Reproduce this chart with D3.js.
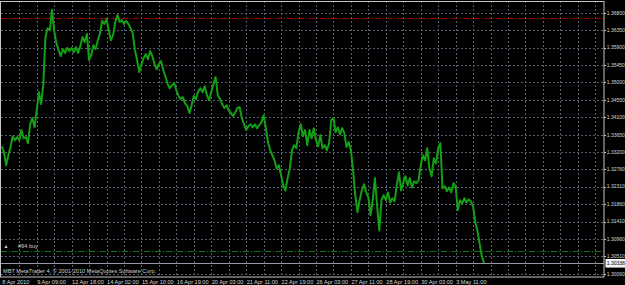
<!DOCTYPE html>
<html>
<head>
<meta charset="utf-8">
<script src="https://cdnjs.cloudflare.com/ajax/libs/d3/7.8.5/d3.min.js"></script>
<style>
  body { margin: 0; background: #000; }
  svg { display: block; }
  text { font-family: "Liberation Sans Narrow", "Liberation Sans", Arial, sans-serif; }
</style>
</head>
<body>
<div class="chart-container"></div>
<script>
const widthSVG = 625;
const heightSVG = 285;

// EURUSD H1, one close every 2 bars
const closes = [
  1.3335, 1.3320, 1.3286, 1.3312, 1.3333, 1.3361, 1.3351, 1.3359, 1.3351, 1.3377,
  1.3356, 1.3359, 1.3343, 1.3392, 1.3408, 1.3384, 1.3428, 1.3475, 1.3444, 1.3493,
  1.3617, 1.3640, 1.3635, 1.3687, 1.3633, 1.3602, 1.3584, 1.3568, 1.3586, 1.3576,
  1.3589, 1.3581, 1.3589, 1.3578, 1.3591, 1.3576, 1.3594, 1.3617, 1.3604, 1.3625,
  1.3558, 1.3571, 1.3596, 1.3586, 1.3609, 1.3627, 1.3659, 1.3651, 1.3664, 1.3635,
  1.3609, 1.3622, 1.3656, 1.3674, 1.3656, 1.3661, 1.3651, 1.3659, 1.3651, 1.3640,
  1.3627, 1.3584, 1.3558, 1.3527, 1.3547, 1.3563, 1.3573, 1.3560, 1.3581, 1.3568,
  1.3547, 1.3534, 1.3547, 1.3555, 1.3532, 1.3516, 1.3496, 1.3485, 1.3493, 1.3498,
  1.3480, 1.3465, 1.3457, 1.3462, 1.3446, 1.3439, 1.3421, 1.3441, 1.3465, 1.3457,
  1.3477, 1.3485, 1.3475, 1.3490, 1.3467, 1.3454, 1.3475, 1.3496, 1.3514, 1.3467,
  1.3457, 1.3444, 1.3434, 1.3441, 1.3428, 1.3421, 1.3413, 1.3423, 1.3434, 1.3436,
  1.3408, 1.3392, 1.3377, 1.3387, 1.3392, 1.3384, 1.3392, 1.3382, 1.3390, 1.3397,
  1.3415, 1.3384, 1.3346, 1.3325, 1.3312, 1.3299, 1.3278, 1.3286, 1.3260, 1.3234,
  1.3221, 1.3253, 1.3278, 1.3325, 1.3338, 1.3330, 1.3372, 1.3392, 1.3361, 1.3377,
  1.3338, 1.3377, 1.3356, 1.3382, 1.3351, 1.3335, 1.3364, 1.3330, 1.3338, 1.3325,
  1.3343, 1.3403, 1.3408, 1.3372, 1.3384, 1.3366, 1.3382, 1.3369, 1.3333, 1.3346,
  1.3325, 1.3273, 1.3209, 1.3165, 1.3196, 1.3221, 1.3237, 1.3216, 1.3203, 1.3157,
  1.3196, 1.3253, 1.3183, 1.3118, 1.3196, 1.3209, 1.3196, 1.3216, 1.3190, 1.3201,
  1.3193, 1.3234, 1.3268, 1.3221, 1.3242, 1.3258, 1.3234, 1.3253, 1.3229, 1.3245,
  1.3240, 1.3247, 1.3286, 1.3312, 1.3299, 1.3330, 1.3278, 1.3258, 1.3304, 1.3291,
  1.3330, 1.3343, 1.3227, 1.3232, 1.3219, 1.3229, 1.3216, 1.3240, 1.3232, 1.3170,
  1.3196, 1.3188, 1.3201, 1.3190, 1.3198, 1.3193, 1.3180, 1.3139, 1.3118, 1.3084,
  1.3051, 1.30338
];

const priceTicks = [
  1.36800, 1.36350, 1.35900, 1.35450, 1.35000, 1.34550, 1.34100, 1.33650,
  1.33200, 1.32760, 1.32310, 1.31860, 1.31410, 1.30960, 1.30510, 1.30060
];

const timeLabels = [
  '8 Apr 2010', '9 Apr 09:00', '12 Apr 18:00', '14 Apr 02:00', '15 Apr 10:00',
  '16 Apr 19:00', '20 Apr 03:00', '21 Apr 11:00', '22 Apr 19:00', '26 Apr 03:00',
  '27 Apr 11:00', '28 Apr 19:00', '30 Apr 03:00', '3 May 11:00'
];

const barStep = 2;
const barsPerGrid = 16;
const barsPerLabel = 32;
const visibleBars = 552;

const bidPrice = 1.30338;
const redLevel = 1.3666;
const orderLevel = 1.3064;
const orderText = '#94 buy';
const copyright = 'MBT MetaTrader 4, \u00a9 2001-2010 MetaQuotes Software Corp.';

const plot = { left: 1, top: 1, right: 604, bottom: 277 };

const svg = d3.select('.chart-container')
  .append('svg')
  .attr('width', widthSVG)
  .attr('height', heightSVG)
  .style('background', '#000');

const x = d3.scaleLinear().domain([0, visibleBars]).range([1.8, plot.right]);
const y = d3.scaleLinear().domain([1.3006, 1.368]).range([273.8, 12.7]);

// grid
const gridBars = d3.range(barsPerGrid, visibleBars, barsPerGrid);
svg.append('g')
  .selectAll('line')
  .data(gridBars)
  .enter().append('line')
  .attr('x1', d => Math.round(x(d)) + 0.5)
  .attr('x2', d => Math.round(x(d)) + 0.5)
  .attr('y1', plot.top)
  .attr('y2', plot.bottom)
  .attr('stroke', '#566072')
  .attr('stroke-dasharray', '2,2');

svg.append('g')
  .selectAll('line')
  .data(priceTicks)
  .enter().append('line')
  .attr('x1', plot.left)
  .attr('x2', plot.right)
  .attr('y1', d => Math.round(y(d)) + 0.5)
  .attr('y2', d => Math.round(y(d)) + 0.5)
  .attr('stroke', '#566072')
  .attr('stroke-dasharray', '2,2');

// niveles
svg.append('line')
  .attr('x1', plot.left).attr('x2', plot.right)
  .attr('y1', Math.round(y(redLevel)) + 0.5).attr('y2', Math.round(y(redLevel)) + 0.5)
  .attr('stroke', '#a80000')
  .attr('stroke-dasharray', '6,2,1,2');

svg.append('line')
  .attr('x1', plot.left).attr('x2', plot.right)
  .attr('y1', Math.round(y(orderLevel)) + 0.5).attr('y2', Math.round(y(orderLevel)) + 0.5)
  .attr('stroke', '#0a7a0a')
  .attr('stroke-dasharray', '6,2,1,2');

svg.append('text')
  .attr('x', 3.5)
  .attr('y', y(orderLevel) - 3.5)
  .attr('font-size', '5px')
  .attr('fill', '#d0d0d0')
  .text('\u25b2');

svg.append('text')
  .attr('x', 18)
  .attr('y', y(orderLevel) - 3)
  .attr('font-size', '5.6px')
  .attr('fill', '#d0d0d0')
  .text(orderText);

// bid line
svg.append('line')
  .attr('x1', plot.left).attr('x2', plot.right)
  .attr('y1', Math.round(y(bidPrice)) + 0.5).attr('y2', Math.round(y(bidPrice)) + 0.5)
  .attr('stroke', '#9a9aa4');

// serie
const line = d3.line()
  .x((d, i) => x(i * barStep))
  .y(d => y(d));

svg.append('path')
  .datum(closes)
  .attr('d', line)
  .attr('fill', 'none')
  .attr('stroke', '#14a014')
  .attr('stroke-width', 2)
  .attr('stroke-linejoin', 'round');

// borde
svg.append('rect')
  .attr('x', 0.5)
  .attr('y', 1.5)
  .attr('width', plot.right - 0.5)
  .attr('height', plot.bottom - 1.5)
  .attr('fill', 'none')
  .attr('stroke', '#c4c4c4');

// eje de precios
const priceAxis = svg.append('g');
priceAxis.selectAll('line')
  .data(priceTicks)
  .enter().append('line')
  .attr('x1', plot.right)
  .attr('x2', plot.right + 2)
  .attr('y1', d => Math.round(y(d)) + 0.5)
  .attr('y2', d => Math.round(y(d)) + 0.5)
  .attr('stroke', '#c4c4c4');

priceAxis.selectAll('text')
  .data(priceTicks)
  .enter().append('text')
  .attr('x', plot.right + 2.8)
  .attr('y', d => y(d) + 1.8)
  .attr('font-size', '5px')
  .attr('fill', '#d8d8d8')
  .text(d => d.toFixed(5));

svg.append('rect')
  .attr('x', plot.right + 2)
  .attr('y', y(bidPrice) - 3.5)
  .attr('width', 20)
  .attr('height', 7.5)
  .attr('fill', '#f0f0f0')
  .attr('stroke', '#ffffff');

svg.append('text')
  .attr('x', plot.right + 2.8)
  .attr('y', y(bidPrice) + 2)
  .attr('font-size', '5px')
  .attr('fill', '#000')
  .text(bidPrice.toFixed(5));

// eje de tiempo
svg.append('g')
  .selectAll('text')
  .data(timeLabels)
  .enter().append('text')
  .attr('x', (d, i) => x(i * barsPerLabel) + 0.5)
  .attr('y', 284)
  .attr('font-size', '5.6px')
  .attr('fill', '#d8d8d8')
  .text(d => d);

svg.append('text')
  .attr('x', 3)
  .attr('y', 273)
  .attr('font-size', '5.6px')
  .attr('fill', '#d0d0d0')
  .text(copyright);
</script>
</body>
</html>
